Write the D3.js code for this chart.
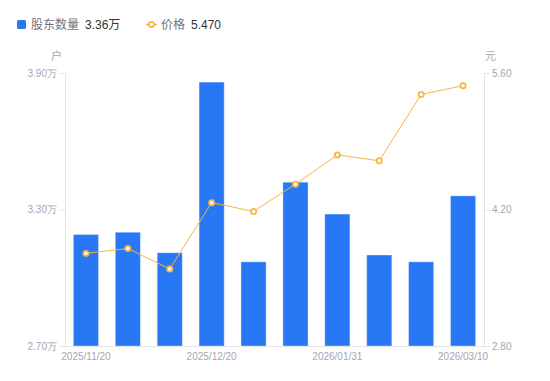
<!DOCTYPE html>
<html>
<head>
<meta charset="utf-8">
<script src="https://cdn.jsdelivr.net/npm/d3@7"></script>
<style>
  body { margin: 0; background: #fff; }
  svg { font-family: "Liberation Sans", "Noto Sans CJK SC", sans-serif; }
</style>
</head>
<body>
<div id="vis"></div>
<script>
// data
var dates = ['2025/11/20', '2025/11/30', '2025/12/10', '2025/12/20', '2025/12/31',
             '2026/01/20', '2026/01/31', '2026/02/10', '2026/02/28', '2026/03/10'];
var holders = [3.19, 3.20, 3.11, 3.86, 3.07, 3.42, 3.28, 3.10, 3.07, 3.36];   // 万户
var prices = [3.75, 3.80, 3.59, 4.27, 4.18, 4.46, 4.76, 4.70, 5.38, 5.47];    // 元
var shownDates = ['2025/11/20', '2025/12/20', '2026/01/31', '2026/03/10'];
var leftTicks = [2.70, 3.30, 3.90];
var rightTicks = [2.80, 4.20, 5.60];

var width = 550, height = 381;
var margin = { top: 73, left: 65, bottom: 35, right: 66 };
var innerW = width - margin.left - margin.right;
var innerH = height - margin.top - margin.bottom;

var barColor = '#2878f5';
var lineColor = '#f8b540';
var textGray = '#a3a6b3';
var axisGray = '#e3e4e8';

var svg = d3.select('#vis').append('svg')
    .attr('width', width)
    .attr('height', height);

var g = svg.append('g')
    .attr('transform', 'translate(' + margin.left + ',' + margin.top + ')');

var x = d3.scaleBand()
    .domain(dates)
    .range([0, innerW])
    .paddingInner(0.4)
    .paddingOuter(0.2);

var yLeft = d3.scaleLinear().domain([2.70, 3.90]).range([innerH, 0]);
var yRight = d3.scaleLinear().domain([2.80, 5.60]).range([innerH, 0]);

// axes
var leftAxis = d3.axisLeft(yLeft)
    .tickValues(leftTicks)
    .tickSize(6)
    .tickPadding(2)
    .tickFormat(function (d) { return d3.format('.2f')(d) + '万'; });

var rightAxis = d3.axisRight(yRight)
    .tickValues(rightTicks)
    .tickSize(6)
    .tickPadding(2)
    .tickFormat(d3.format('.2f'));

var bottomAxis = d3.axisBottom(x)
    .tickValues(shownDates)
    .tickSize(0)
    .tickPadding(7);

function styleAxis(sel) {
    sel.selectAll('path').attr('stroke', axisGray);
    sel.selectAll('line').attr('stroke', axisGray);
    sel.selectAll('text')
        .attr('fill', textGray)
        .style('font-size', '10px');
}

g.append('g').attr('class', 'y axis left').call(leftAxis).call(styleAxis);
g.append('g').attr('class', 'y axis right')
    .attr('transform', 'translate(' + innerW + ',0)')
    .call(rightAxis).call(styleAxis);

var xg = g.append('g').attr('class', 'x axis')
    .attr('transform', 'translate(0,' + innerH + ')')
    .call(bottomAxis).call(styleAxis);
xg.select('path').attr('d', 'M0,0.5H' + innerW);

// unit labels
g.append('text')
    .attr('x', -3).attr('y', -13)
    .attr('text-anchor', 'end')
    .attr('fill', textGray)
    .style('font-size', '11px')
    .text('户');
g.append('text')
    .attr('x', innerW + 1).attr('y', -13)
    .attr('fill', textGray)
    .style('font-size', '11px')
    .text('元');

// bars
g.selectAll('.bar').data(holders)
  .enter().append('rect')
    .attr('class', 'bar')
    .attr('x', function (d, i) { return x(dates[i]); })
    .attr('y', function (d) { return yLeft(d); })
    .attr('width', x.bandwidth())
    .attr('height', function (d) { return innerH - yLeft(d); })
    .attr('fill', barColor)
    .attr('stroke', 'rgba(255,255,255,0.35)')
    .attr('stroke-width', 1);

// price line
var line = d3.line()
    .x(function (d, i) { return x(dates[i]) + x.bandwidth() / 2; })
    .y(function (d) { return yRight(d); });

g.append('path')
    .datum(prices)
    .attr('fill', 'none')
    .attr('stroke', lineColor)
    .attr('stroke-width', 1)
    .attr('d', line);

g.selectAll('.dot').data(prices)
  .enter().append('circle')
    .attr('class', 'dot')
    .attr('cx', function (d, i) { return x(dates[i]) + x.bandwidth() / 2; })
    .attr('cy', function (d) { return yRight(d); })
    .attr('r', 2.6)
    .attr('fill', '#fff')
    .attr('stroke', lineColor)
    .attr('stroke-width', 1.8);

// legend
var legend = svg.append('g');
legend.append('rect')
    .attr('x', 17).attr('y', 20)
    .attr('width', 9).attr('height', 9)
    .attr('rx', 1.5)
    .attr('fill', barColor);
legend.append('text')
    .attr('x', 31).attr('y', 29)
    .attr('fill', '#70737e')
    .style('font-size', '12px')
    .text('股东数量');
legend.append('text')
    .attr('x', 85).attr('y', 29)
    .attr('fill', '#333')
    .style('font-size', '12px')
    .text(d3.format('.2f')(holders[holders.length - 1]) + '万');

legend.append('line')
    .attr('x1', 146).attr('x2', 157)
    .attr('y1', 24.5).attr('y2', 24.5)
    .attr('stroke', lineColor)
    .attr('stroke-width', 1.5);
legend.append('circle')
    .attr('cx', 151.5).attr('cy', 24.5)
    .attr('r', 2.6)
    .attr('fill', '#fff')
    .attr('stroke', lineColor)
    .attr('stroke-width', 1.8);
legend.append('text')
    .attr('x', 161).attr('y', 29)
    .attr('fill', '#70737e')
    .style('font-size', '12px')
    .text('价格');
legend.append('text')
    .attr('x', 191).attr('y', 29)
    .attr('fill', '#333')
    .style('font-size', '12px')
    .text(d3.format('.3f')(prices[prices.length - 1]));
</script>
</body>
</html>
